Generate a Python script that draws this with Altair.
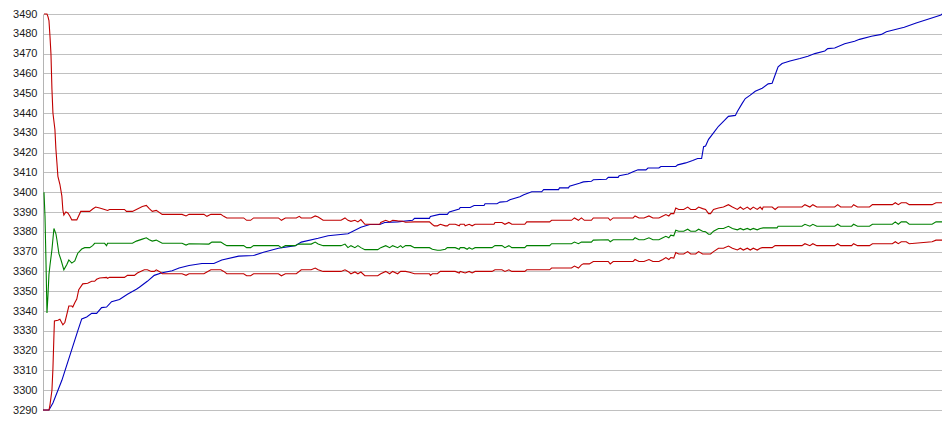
import altair as alt
import pandas as pd

# y-axis tick values
TICKS = list(range(3290, 3491, 10))

# Blue series (x in sample units, y values)
BLUE_X = [43, 49, 53, 62, 70, 78, 82, 87, 92, 97, 102, 107, 112, 120, 128, 137, 140, 148, 155, 162,
          173, 180, 190, 203, 215, 223, 240, 255, 265, 280, 297, 303, 320, 330, 350, 363, 372, 382,
          387, 400, 415, 417, 432, 433, 442, 450, 452, 462, 463, 473, 477, 487, 488, 500, 503, 510,
          513, 523, 527, 535, 545, 547, 562, 563, 572, 573, 583, 587, 595, 597, 610, 612, 622, 623,
          632, 637, 642, 650, 652, 663, 665, 680, 682, 690, 697, 702, 706, 707, 708, 710, 713, 718,
          723, 728, 733, 740, 742, 747, 750, 755, 760, 767, 773, 777, 780, 783, 787, 795, 805, 813,
          820, 830, 833, 840, 850, 860, 865, 877, 887, 892, 900, 910, 922, 933, 947, 948]
BLUE_Y = [3290, 3290, 3293.5, 3305, 3317.5, 3330, 3336, 3337, 3338.8, 3338.8, 3341.7, 3342, 3344.7,
          3345.8, 3348.5, 3351, 3352, 3355, 3358, 3359.2, 3360.3, 3361.7, 3363, 3364, 3364, 3365.8,
          3367.7, 3368, 3369.7, 3371.7, 3373, 3374.8, 3376.7, 3378, 3379, 3382.3, 3383.7, 3383.7,
          3384.7, 3385, 3385.8, 3386.8, 3386.8, 3387.8, 3388.8, 3388.8, 3390, 3391.5, 3392.3, 3392.3,
          3393.3, 3393.3, 3394.2, 3394.2, 3395, 3395.3, 3396.2, 3397.7, 3398.7, 3400.2, 3400.2,
          3401.3, 3401.3, 3402.2, 3402.2, 3403, 3404.5, 3405.2, 3405.5, 3406.3, 3406.5, 3407.5,
          3407.5, 3408.3, 3409.2, 3410.3, 3411.3, 3411.3, 3412.2, 3412.2, 3413, 3413, 3413.8, 3414.8,
          3416, 3417, 3417, 3420, 3423, 3423.3, 3426.7, 3430, 3433.3, 3435.8, 3438.3, 3438.8, 3440.8,
          3445, 3447.3, 3449, 3451, 3452.5, 3454.7, 3455, 3459.2, 3463.3, 3465, 3466.3, 3467.5,
          3468.7, 3470, 3471.3, 3472.5, 3472.8, 3475, 3476.2, 3477.2, 3478.8, 3479.7, 3481, 3482,
          3483.3, 3485.5, 3487.2, 3489.5, 3490]

# Upper red band
UPPER_X = [44, 47, 48, 49, 50, 51, 52, 53, 55, 56, 57, 58, 60, 62, 63, 64, 66, 68, 70, 72, 77, 81,
           90, 93, 96, 100, 105, 108, 110, 125, 127, 133, 137, 143, 147, 150, 153, 157, 163, 183,
           187, 190, 205, 208, 212, 222, 225, 228, 245, 248, 252, 255, 280, 283, 287, 298, 301, 303,
           313, 317, 320, 325, 343, 347, 350, 353, 357, 360, 363, 367, 382, 383, 388, 392, 395, 400,
           405, 408, 417, 432, 435, 437, 440, 443, 448, 450, 452, 458, 462, 463, 467, 468, 472, 475,
           478, 497, 498, 505, 508, 512, 515, 528, 530, 553, 555, 575, 578, 582, 585, 588, 595, 597,
           612, 614, 617, 637, 639, 643, 648, 653, 657, 663, 667, 670, 673, 675, 678, 680, 683, 688,
           692, 695, 700, 703, 707, 710, 713, 715, 718, 723, 728, 733, 737, 742, 745, 748, 752, 755,
           758, 762, 765, 767, 768, 777, 780, 783, 807, 810, 815, 818, 822, 840, 843, 846, 857, 859,
           863, 875, 878, 898, 901, 904, 907, 912, 915, 938, 942, 948]
UPPER_Y = [3490, 3490, 3488.7, 3486.7, 3479, 3470, 3452, 3440, 3431.7, 3421.7, 3415, 3408, 3404,
           3398, 3391, 3388.5, 3390, 3389.5, 3388, 3386, 3386, 3390.3, 3390.3, 3391.5, 3392.5, 3392,
           3391.3, 3390.8, 3391.3, 3391.3, 3390.3, 3390.3, 3391.3, 3392.8, 3393.3, 3391.7, 3390.3,
           3390.8, 3388.8, 3388.8, 3388, 3388.8, 3388.8, 3387.8, 3388.8, 3388.8, 3387.8, 3387, 3387,
           3385.8, 3385.8, 3387, 3387, 3385.8, 3387, 3387, 3387.8, 3387, 3387, 3388, 3387.5, 3385.8,
           3385.8, 3387, 3385.8, 3385.3, 3385.8, 3385, 3386.2, 3383.8, 3383.8, 3384.7, 3385.8, 3385,
           3385.8, 3385.5, 3385.3, 3384.8, 3385, 3385, 3383.7, 3383, 3383, 3383.8, 3383, 3383,
           3383.8, 3383.8, 3383, 3383.8, 3383.8, 3383, 3383.8, 3383, 3383.8, 3383.8, 3384.7, 3384.7,
           3383.8, 3384.7, 3383.8, 3383.8, 3385, 3385, 3385.8, 3385.8, 3387, 3385.8, 3387, 3385.8,
           3385.8, 3387, 3387, 3385.8, 3387, 3387, 3388, 3387, 3387, 3388, 3387, 3387, 3388, 3388.7,
           3388, 3389.2, 3389.2, 3392, 3391.3, 3391.3, 3392.5, 3391.3, 3391.3, 3392.5, 3391.7,
           3391.3, 3389.2, 3389.2, 3391.3, 3392, 3392.5, 3393.7, 3392.5, 3391.3, 3392.5, 3391.3,
           3392.5, 3391.3, 3392.5, 3391.3, 3392.5, 3391.3, 3392.5, 3392.5, 3391.3, 3392.5, 3392.5,
           3393.7, 3392.5, 3393.7, 3392.5, 3392.5, 3393.7, 3392.5, 3392.5, 3393.7, 3392.5, 3392.5,
           3393.7, 3393.7, 3394.7, 3393.7, 3394.7, 3394.7, 3393.7, 3393.7, 3394.7, 3394.7]

# Middle green line
MID_X = [44, 45, 46, 47, 48, 49, 50, 52, 54, 56, 57, 59, 61, 64, 67, 69, 72, 75, 78, 82, 85, 90, 93,
         95, 105, 107, 108, 133, 137, 143, 147, 150, 153, 157, 163, 183, 187, 190, 210, 213, 222,
         225, 228, 245, 248, 252, 255, 280, 283, 287, 297, 300, 313, 317, 320, 325, 343, 347, 350,
         353, 357, 360, 363, 367, 380, 383, 388, 392, 395, 400, 403, 405, 408, 413, 417, 432, 435,
         440, 443, 448, 450, 458, 462, 463, 467, 470, 472, 475, 478, 495, 498, 505, 508, 512, 515,
         528, 530, 553, 555, 575, 578, 582, 585, 595, 597, 612, 614, 617, 637, 639, 643, 648, 653,
         657, 663, 667, 670, 673, 675, 678, 680, 683, 688, 692, 695, 700, 703, 707, 710, 713, 715,
         718, 723, 728, 733, 737, 742, 745, 748, 752, 755, 758, 762, 765, 768, 782, 783, 807, 810,
         815, 818, 822, 840, 843, 846, 857, 859, 863, 875, 878, 898, 901, 904, 907, 912, 915, 938,
         942, 948]
MID_Y = [3400, 3388, 3365, 3339, 3348, 3358.5, 3363, 3371, 3381.7, 3379, 3376, 3369, 3366, 3360.8,
         3363.5, 3365.8, 3364.2, 3365.3, 3369.2, 3371.3, 3372, 3372, 3373, 3374.2, 3374.2, 3373,
         3374.2, 3374.2, 3375.3, 3376.3, 3377, 3376, 3375.3, 3375.8, 3374.2, 3374.2, 3373.3, 3374,
         3373.8, 3374.8, 3374.8, 3373.8, 3373, 3373, 3372, 3372, 3373, 3373, 3372, 3373, 3373,
         3373.8, 3373.8, 3374.8, 3373.8, 3373, 3373, 3373.8, 3372, 3373, 3372, 3373, 3372, 3371,
         3371, 3372, 3373, 3372, 3373, 3372, 3373, 3372, 3373, 3373, 3372, 3372, 3371.2, 3370.7,
         3370.7, 3371.2, 3372, 3372, 3371.2, 3372, 3372, 3371.2, 3372, 3371.2, 3372, 3372, 3373,
         3373, 3372, 3373, 3372, 3372, 3373, 3373, 3374, 3374, 3374.8, 3374, 3374.8, 3374.8,
         3375.8, 3376, 3375, 3376, 3376, 3377, 3376, 3376, 3377, 3376, 3376, 3377, 3377.7, 3377,
         3378.3, 3378, 3380.8, 3380.3, 3380.3, 3381.3, 3380.3, 3380.3, 3381.3, 3380.3, 3380,
         3378.8, 3378.8, 3380.3, 3381.7, 3381.7, 3382.8, 3381.7, 3381, 3381.7, 3381, 3381.7, 3381,
         3381.7, 3381, 3381.7, 3382, 3382, 3382.8, 3382.8, 3383.8, 3382.8, 3383.8, 3382.8, 3382.8,
         3383.8, 3382.8, 3382.8, 3383.8, 3382.8, 3382.8, 3383.8, 3383.8, 3385, 3383.8, 3385, 3385,
         3383.8, 3383.8, 3385, 3385]

# Lower red band
LOWER_X = [43, 49, 50, 52, 53, 54, 54.5, 58, 60, 63, 65, 67, 69, 72, 73, 75, 77, 79, 83, 88, 92, 95,
           97, 100, 107, 108, 110, 125, 128, 135, 138, 145, 148, 152, 155, 157, 160, 163, 183, 187,
           190, 205, 208, 212, 222, 225, 228, 245, 248, 252, 255, 280, 283, 287, 298, 303, 313, 317,
           320, 325, 343, 347, 350, 353, 357, 360, 363, 367, 380, 383, 388, 392, 395, 400, 403, 408,
           412, 417, 432, 433, 435, 440, 443, 458, 462, 463, 468, 472, 475, 478, 495, 498, 505, 508,
           512, 515, 528, 530, 553, 555, 575, 578, 582, 585, 587, 593, 597, 612, 614, 617, 637, 639,
           643, 648, 653, 657, 663, 667, 670, 673, 675, 678, 680, 683, 688, 692, 695, 700, 703, 707,
           715, 718, 723, 728, 733, 737, 742, 745, 748, 752, 755, 758, 762, 765, 767, 777, 780, 807,
           810, 815, 818, 822, 840, 843, 846, 857, 859, 863, 875, 878, 898, 901, 904, 907, 912, 915,
           938, 942, 948]
LOWER_Y = [3290, 3290, 3292.5, 3300, 3311, 3327.5, 3335, 3335.3, 3335.8, 3333, 3334.2, 3338.3,
           3342.5, 3342.5, 3342, 3344.2, 3346, 3350.8, 3353.7, 3354, 3355, 3355, 3356, 3356.7, 3357,
           3356.5, 3357, 3357, 3358, 3358, 3359.2, 3360.8, 3360.8, 3360, 3360, 3360.8, 3360, 3358.8,
           3358.8, 3358, 3358.8, 3358.8, 3359.7, 3360.8, 3360.8, 3360, 3358.8, 3358.8, 3357.8,
           3357.8, 3358.8, 3358.8, 3357.8, 3358.8, 3358.8, 3360.8, 3360.8, 3361.7, 3360.8, 3360,
           3360, 3360.8, 3360, 3358.8, 3359.7, 3358.8, 3359.7, 3357.8, 3357.8, 3358.8, 3360, 3358.8,
           3360, 3358.8, 3360, 3360, 3359.6, 3358.8, 3358.8, 3358, 3358.8, 3358.8, 3360, 3360,
           3359.2, 3360, 3359.2, 3360, 3359.2, 3360, 3360, 3360.8, 3360.8, 3360, 3360.8, 3360, 3360,
           3360.8, 3360.8, 3361.7, 3361.7, 3362.7, 3361.7, 3363.3, 3363.8, 3363.8, 3365, 3365,
           3363.8, 3365, 3365, 3366, 3365, 3365, 3366, 3365, 3365, 3366, 3367, 3366, 3367, 3366.7,
           3369.5, 3368.8, 3368.8, 3370, 3368.8, 3368.8, 3370, 3368.8, 3368.8, 3370, 3371.7, 3371.7,
           3372.8, 3371.7, 3370.8, 3371.7, 3370.8, 3371.7, 3370.8, 3371.7, 3370.8, 3371.7, 3372,
           3372, 3373, 3373, 3374, 3373, 3374, 3373, 3373, 3374, 3373, 3373, 3374, 3373, 3373, 3374,
           3374, 3375, 3374, 3375, 3375, 3374, 3375, 3375.8, 3375.8]

X_DOMAIN = [43, 948]
Y_DOMAIN = [3290, 3490]

x_enc = alt.X("x:Q", scale=alt.Scale(domain=X_DOMAIN, nice=False, zero=False), axis=None)
y_scale = alt.Scale(domain=Y_DOMAIN, nice=False, zero=False)

y_axis = alt.Axis(
    values=TICKS, title=None, grid=True, gridColor="#c0c0c0", gridWidth=1, gridOpacity=1,
    domain=True, domainColor="#b4b4b4", domainWidth=1, ticks=False, tickSize=0,
    labelPadding=6, labelFont="Liberation Sans", labelFontSize=11, labelColor="#1a1a1a",
    format="d",
)


def line(xs, ys, color):
    df = pd.DataFrame({"x": xs, "v": ys})
    return alt.Chart(df).mark_line(color=color, strokeWidth=1.1).encode(
        x=x_enc,
        y=alt.Y("v:Q", scale=y_scale, axis=y_axis),
    )


chart = alt.layer(
    line(BLUE_X, BLUE_Y, "#0000c0"),
    line(UPPER_X, UPPER_Y, "#c00000"),
    line(LOWER_X, LOWER_Y, "#c00000"),
    line(MID_X, MID_Y, "#008000"),
).properties(
    width=899,
    height=396,
    autosize="none",
    padding={"left": 35, "top": 6, "right": 0, "bottom": 8},
).configure_view(stroke=None)

chart.save("out.html", embed_options={"renderer": "svg", "actions": False})
